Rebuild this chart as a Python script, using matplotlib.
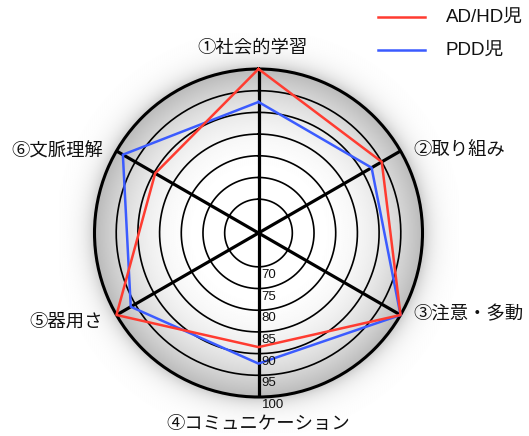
import numpy as np
import matplotlib
matplotlib.use("Agg")
import matplotlib.pyplot as plt
from matplotlib.transforms import offset_copy

plt.rcParams['font.family'] = ['Liberation Sans', 'Noto Sans CJK JP', 'DejaVu Sans']

# --- data ---
categories = ['①社会的学習', '②取り組み', '③注意・多動', '④コミュニケーション', '⑤器用さ', '⑥文脈理解']
adhd_values = [100, 95, 100, 88.5, 100, 89.7]
pdd_values = [92.4, 92.3, 100, 92.3, 96.2, 98.3]
ring_values = [70, 75, 80, 85, 90, 95, 100]
series_names = ['AD/HD児', 'PDD児']

R_MIN, R_MAX = 62.2, 100
W, H = 529, 436
CX, CY = 258.5, 233.0      # centre in pixels (from top)
RPX = 164.0                # outer ring radius in pixels

fig = plt.figure(figsize=(W / 100, H / 100), dpi=100)
fig.patch.set_facecolor('white')

# background: shaded disc with a soft halo around it
pad = 200.0
bg = fig.add_axes([(CX - pad) / W, (H - CY - pad) / H, 2 * pad / W, 2 * pad / H])
bg.set_axis_off()
n = 600
g = np.linspace(-pad / RPX, pad / RPX, n)
xx, yy = np.meshgrid(g, g)
rr = np.hypot(xx, yy)
inside = 1.0 - 0.27 * np.clip((rr - 0.3) / 0.7, 0, 1) ** 2.4
outside = 1.0 - 0.22 * np.exp(-(rr - 1.0) / 0.06)
img = np.where(rr <= 1.0, inside, outside)
bg.imshow(img, cmap='gray', vmin=0, vmax=1, extent=(-1, 1, -1, 1),
          interpolation='bilinear', origin='lower')
bg.set_xlim(-1, 1)
bg.set_ylim(-1, 1)

# polar axes
ax = fig.add_axes([(CX - RPX) / W, (H - CY - RPX) / H, 2 * RPX / W, 2 * RPX / H],
                  projection='polar')
ax.patch.set_alpha(0)
ax.set_theta_zero_location('N')
ax.set_theta_direction(-1)
ax.set_ylim(R_MIN, R_MAX)
ax.set_xticks([])
ax.set_yticks([])
ax.grid(False)
ax.spines['polar'].set_linewidth(2.2)
ax.spines['polar'].set_color('black')

angles = np.deg2rad(np.arange(len(categories)) * 360 / len(categories))
full = np.linspace(0, 2 * np.pi, 400)

for v in ring_values[:-1]:
    ax.plot(full, [v] * len(full), color='black', lw=1.2, zorder=2)
for a in angles:
    ax.plot([a, a], [R_MIN, R_MAX], color='black', lw=2.3, zorder=2, solid_capstyle='butt')

closed = np.append(angles, angles[0])
ax.plot(closed, adhd_values + adhd_values[:1], color='#ff3b30', lw=1.8, zorder=4,
        clip_on=False, label=series_names[0])
ax.plot(closed, pdd_values + pdd_values[:1], color='#3b5bff', lw=1.8, zorder=3,
        clip_on=False, label=series_names[1])

# ring value labels along the lower spoke
tr = offset_copy(ax.transData, fig=fig, x=3, y=-2, units='dots')
for v in ring_values:
    ax.text(np.pi, v, str(v), transform=tr, ha='left', va='top',
            fontsize=9.5, color='#111111', zorder=5, clip_on=False)

# category labels
label_pos = [
    (253, 48, 'center'),
    (413, 150, 'left'),
    (413, 315, 'left'),
    (258, 424, 'center'),
    (103, 322, 'right'),
    (103, 152, 'right'),
]
for text, (px, py, ha) in zip(categories, label_pos):
    fig.text(px / W, 1 - py / H, text, ha=ha, va='center', fontsize=13.2, color='#111111')

# legend
leg_items = [(17, '#ff3b30', series_names[0]), (50, '#3b5bff', series_names[1])]
for py, col, name in leg_items:
    fig.add_artist(plt.Line2D([378 / W, 425 / W], [1 - py / H, 1 - py / H],
                              color=col, lw=1.8, transform=fig.transFigure))
    fig.text(446 / W, 1 - py / H, name, ha='left', va='center', fontsize=13.5, color='#111111')

fig.savefig('out.png', dpi=100)
